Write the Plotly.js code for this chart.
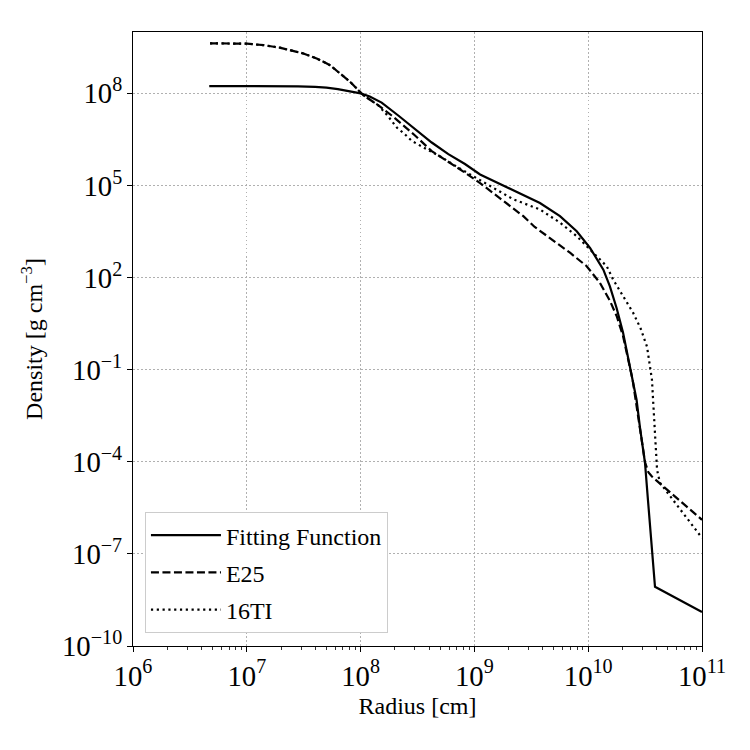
<!DOCTYPE html>
<html>
<head>
<meta charset="utf-8">
<script src="https://cdn.plot.ly/plotly-3.0.1.min.js"></script>
<style>html,body{margin:0;padding:0;background:#fff;}#chart{width:750px;height:750px;}</style>
</head>
<body>
<div id="chart"></div>
<script>
// Data: log10(radius [cm]) and log10(density [g cm^-3])
const fitLogR   = [6.67, 7.0, 7.3, 7.45, 7.6, 7.7, 7.8, 7.9, 8.0, 8.08, 8.185, 8.331, 8.478, 8.625, 8.771, 8.917, 9.05, 9.2, 9.342, 9.46, 9.576, 9.752, 9.899, 10.016, 10.133, 10.19, 10.25, 10.306, 10.385, 10.425, 10.455, 10.499, 10.525, 10.587, 11.0];
const fitLogRho = [8.24, 8.24, 8.235, 8.23, 8.21, 8.19, 8.14, 8.08, 8.0, 7.90, 7.70, 7.28, 6.84, 6.40, 6.02, 5.70, 5.36, 5.10, 4.85, 4.65, 4.43, 4.00, 3.51, 2.97, 2.26, 1.72, 1.0, 0.21, -1.32, -1.98, -2.89, -4.03, -5.24, -8.07, -8.89];

const e25LogR   = [6.677, 6.85, 7.0, 7.15, 7.29, 7.497, 7.614, 7.731, 7.819, 7.907, 8.024, 8.153, 8.273, 8.39, 8.478, 8.625, 8.771, 8.917, 9.05, 9.225, 9.33, 9.43, 9.53, 9.635, 9.74, 9.84, 9.987, 10.103, 10.19, 10.25, 10.306, 10.39, 10.455, 10.50, 10.53, 10.56, 11.0];
const e25LogRho = [9.63, 9.63, 9.62, 9.57, 9.49, 9.30, 9.14, 8.92, 8.65, 8.38, 7.94, 7.62, 7.28, 6.90, 6.63, 6.12, 5.78, 5.42, 5.08, 4.58, 4.30, 4.00, 3.65, 3.35, 3.08, 2.81, 2.37, 1.83, 1.25, 0.75, 0.10, -1.32, -2.89, -4.03, -4.35, -4.48, -5.89];

const tiLogR   = [6.677, 6.85, 7.0, 7.15, 7.29, 7.497, 7.614, 7.731, 7.819, 7.907, 8.024, 8.153, 8.232, 8.32, 8.38, 8.45, 8.548, 8.698, 8.85, 8.988, 9.1, 9.342, 9.576, 9.752, 9.899, 10.016, 10.163, 10.218, 10.30, 10.394, 10.46, 10.517, 10.56, 10.587, 10.605, 10.63, 11.0];
const tiLogRho = [9.63, 9.63, 9.62, 9.57, 9.49, 9.30, 9.14, 8.92, 8.65, 8.38, 7.94, 7.62, 7.30, 6.88, 6.70, 6.45, 6.25, 5.95, 5.60, 5.30, 5.05, 4.55, 4.22, 3.79, 3.35, 2.91, 2.37, 1.94, 1.42, 0.86, 0.35, -0.25, -1.32, -2.89, -4.26, -4.68, -6.48];

const seriesNames = ["Fitting Function", "E25", "16TI"];
const xTitle = "Radius [cm]";
const yTitle = "Density [g cm<sup>−3</sup>]";

const pow10 = a => a.map(v => Math.pow(10, v));
const FONT = "'Liberation Serif', 'DejaVu Serif', serif";

const traces = [
  {x: pow10(fitLogR), y: pow10(fitLogRho), name: seriesNames[0], legendgroup: "a",
   mode: "lines", line: {color: "black", width: 2.2, dash: "solid"}},
  {x: pow10(e25LogR), y: pow10(e25LogRho), name: seriesNames[1], legendgroup: "b",
   mode: "lines", line: {color: "black", width: 2.2, dash: "8px,3.5px"}},
  {x: pow10(tiLogR), y: pow10(tiLogRho), name: seriesNames[2], legendgroup: "c",
   mode: "lines", line: {color: "black", width: 2.2, dash: "2.2px,3.6px"}}
];

const layout = {
  width: 750, height: 750,
  margin: {l: 133, r: 48, t: 32, b: 104},
  paper_bgcolor: "white", plot_bgcolor: "white",
  font: {family: FONT, size: 24, color: "black"},
  showlegend: true,
  legend: {x: 0.021, y: 0.021, xanchor: "left", yanchor: "bottom",
           bgcolor: "white", bordercolor: "#cccccc", borderwidth: 1,
           itemwidth: 70,
           font: {family: FONT, size: 24, color: "black"}, tracegroupgap: 3},
  xaxis: {
    type: "log", range: [6, 11], tickmode: "linear", tick0: 0, dtick: 1,
    exponentformat: "power", ticks: "outside", ticklen: 5, tickwidth: 1, tickcolor: "black",
    showline: true, linecolor: "black", linewidth: 1.2, mirror: true,
    showgrid: true, gridcolor: "#b0b0b0", gridwidth: 1, griddash: "1.5px,2.5px",
    zeroline: false,
    minor: {ticks: "outside", ticklen: 3, tickwidth: 0.8, tickcolor: "black", showgrid: false, dtick: "D1"},
    title: {text: xTitle, font: {family: FONT, size: 24}, standoff: 6},
    tickfont: {family: FONT, size: 23}
  },
  yaxis: {
    type: "log", range: [-10, 10], tickmode: "linear", tick0: -10, dtick: 3,
    exponentformat: "power", ticks: "outside", ticklen: 5, tickwidth: 1, tickcolor: "black",
    showline: true, linecolor: "black", linewidth: 1.2, mirror: true,
    showgrid: true, gridcolor: "#b0b0b0", gridwidth: 1, griddash: "1.5px,2.5px",
    zeroline: false,
    title: {text: yTitle, font: {family: FONT, size: 24}, standoff: 12},
    tickfont: {family: FONT, size: 23}
  }
};

Plotly.newPlot("chart", traces, layout, {staticPlot: true, displayModeBar: false});
</script>
</body>
</html>
